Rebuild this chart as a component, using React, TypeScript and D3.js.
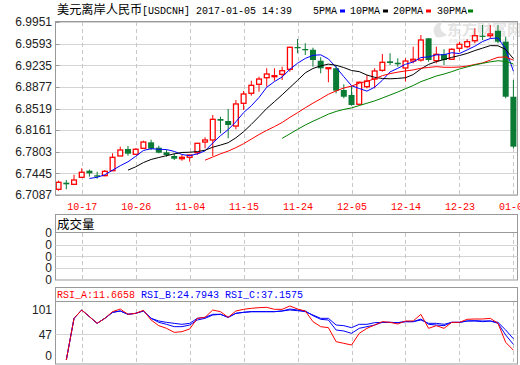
import React from "react";
import * as d3 from "d3";

const dates = [
  "10-12","10-13","10-14","10-17","10-18","10-19","10-20","10-21","10-24","10-25",
  "10-26","10-27","10-28","10-31","11-01","11-02","11-03","11-04","11-07","11-08",
  "11-09","11-10","11-11","11-14","11-15","11-16","11-17","11-18","11-21","11-22",
  "11-23","11-24","11-25","11-28","11-29","11-30","12-01","12-02","12-05","12-06",
  "12-07","12-08","12-09","12-12","12-13","12-14","12-15","12-16","12-19","12-20",
  "12-21","12-22","12-23","12-27","12-28","12-29","12-30","01-03","01-04","01-05"
];
const opens = [
  6.7181,6.7291,6.7264,6.7380,6.7489,6.7413,6.7407,6.7489,6.7733,6.7849,
  6.7761,6.7860,6.7959,6.7870,6.7794,6.7733,6.7688,6.7711,6.7787,6.7964,
  6.7998,6.8345,6.8312,6.8229,6.8605,6.8771,6.8920,6.9029,6.9045,6.9085,
  6.9168,6.9537,6.9504,6.9492,6.9310,6.9178,6.9185,6.8825,6.8743,6.8589,
  6.8880,6.9007,6.9151,6.9300,6.9277,6.9190,6.9305,6.9322,6.9681,6.9310,
  6.9416,6.9334,6.9516,6.9542,6.9641,6.9724,6.9724,6.9807,6.9625,6.8714
];
const highs = [
  6.7324,6.7335,6.7423,6.7529,6.7506,6.7473,6.7501,6.7777,6.7887,6.7898,
  6.7860,6.7986,6.8002,6.7903,6.7832,6.7777,6.7749,6.7752,6.7946,6.8042,
  6.8411,6.8383,6.8511,6.8660,6.8809,6.8979,6.9045,6.9185,6.9185,6.9211,
  6.9542,6.9670,6.9598,6.9526,6.9367,6.9196,6.9239,6.8920,6.8896,6.8963,
  6.9074,6.9185,6.9421,6.9433,6.9350,6.9350,6.9542,6.9736,6.9685,6.9542,
  6.9499,6.9516,6.9625,6.9665,6.9847,6.9901,6.9901,6.9901,6.9708,6.8991
];
const lows = [
  6.7158,6.7181,6.7260,6.7368,6.7390,6.7357,6.7397,6.7485,6.7730,6.7738,
  6.7749,6.7849,6.7832,6.7777,6.7721,6.7666,6.7655,6.7638,6.7749,6.7860,
  6.7733,6.8108,6.8026,6.8175,6.8494,6.8731,6.8797,6.8880,6.8979,6.8991,
  6.9128,6.9433,6.9405,6.9211,6.9102,6.8953,6.8771,6.8688,6.8565,6.8577,
  6.8853,6.8853,6.9128,6.9239,6.9211,6.8966,6.9267,6.9294,6.9294,6.9267,
  6.9239,6.9322,6.9459,6.9516,6.9598,6.9653,6.9681,6.9598,6.8688,6.7860
];
const closes = [
  6.7297,6.7264,6.7335,6.7463,6.7446,6.7390,6.7479,6.7711,6.7832,6.7771,
  6.7844,6.7964,6.7854,6.7787,6.7749,6.7688,6.7711,6.7749,6.7943,6.7998,
  6.8340,6.8317,6.8246,6.8594,6.8759,6.8903,6.9007,6.9090,6.9062,6.9145,
  6.9532,6.9516,6.9483,6.9322,6.9185,6.9194,6.8814,6.8714,6.8577,6.8953,
  6.8974,6.9140,6.9284,6.9272,6.9251,6.9305,6.9334,6.9653,6.9322,6.9416,
  6.9322,6.9499,6.9582,6.9625,6.9724,6.9708,6.9752,6.9625,6.8714,6.7887
];
const rsiA = [null,-10,82.5,101,86.2,71.4,82.5,97.3,103.2,91.4,93.6,100.3,78.8,66.2,60.3,51.4,52.9,58.8,82.5,84.7,101,97.3,84.7,98.8,102.5,104.7,106.2,106.9,102.5,102.5,109.9,103.2,98.8,75.1,64,61.8,30.7,27,23.3,49.2,60.3,67.7,75.1,73.6,69.9,76.6,76.6,91.4,60.3,66.2,60.3,73.6,73.6,80.3,81,81,82.5,71.4,29.2,11.67];
const rsiB = [null,-10,82.5,101,86.2,71.4,82.5,95.8,98.8,91.4,93.6,98.8,82.5,73.6,69.2,64,64,67.7,78.8,82.5,89.9,91.4,84.7,93.6,95.8,97.3,97.3,97.3,97.3,98.8,103.2,101,98.8,88.4,80.3,78.8,56.6,54.4,49.2,60.3,64,67.7,73.6,73.6,72.9,75.1,75.1,81,69.2,67.7,66.2,73.6,73.6,76.6,76.6,75.1,76.6,71.4,45.5,24.79];
const rsiC = [null,-10,82.5,101,86.2,71.4,82.5,95.8,98.8,91.4,93.6,98.8,82.5,76.6,73.6,71.4,69.2,71.4,82.5,84.7,91.4,91.4,84.7,93.6,95.8,97.3,97.3,97.3,97.3,98.8,101,99.5,97.3,89.9,82.5,82.5,67.7,66.2,61.8,69.2,69.2,72.9,73.6,73.6,72.9,75.1,75.1,78.8,71.4,71.4,69.2,73.6,73.6,76.6,77.3,76.6,76.6,73.6,56.6,37.16];
const priceTicks = [6.9951,6.9593,6.9235,6.8877,6.8519,6.8161,6.7803,6.7445,6.7087];
const dateTicks = ["10-17","10-26","11-04","11-15","11-24","12-05","12-14","12-23","01-05"];
const volTicks = ["0","0","0","0","0"];
const rsiTicks = [101, 47, 0];
const maPeriods = [5, 10, 20, 30];
const maNames = ["5PMA", "10PMA", "20PMA", "30PMA"];
const maColors = ["#0000ff", "#000000", "#ff0000", "#008000"];
const rsiLabels = ["RSI_A:11.6658", "RSI_B:24.7943", "RSI_C:37.1575"];
const rsiColors = ["#ff0000", "#0000ff", "#0000ff"];

const UP = "#ff0000";
const DOWN = "#0b7a34";
const FRAME = "#999999";
const GRID = "#d4d4d4";
const MONO = "'Liberation Mono', 'DejaVu Sans Mono', monospace";
const SANS = "'Liberation Sans', Arial, sans-serif";
const CJK = "'Noto Sans CJK SC', sans-serif";

const L = 55.5, R = 517.5;

export default function App() {
  const x = d3.scalePoint<string>().domain(dates).range([58.6, 513.4]);
  const y = d3.scaleLinear().domain([6.7087, 6.9951]).range([195, 22]);
  const ry = d3.scaleLinear().domain([0, 101]).range([355.5, 310]);
  const vy = d3.scaleLinear().domain([0, 4]).range([280, 232.7]);

  const mas = maPeriods.map((n) =>
    closes.map((_, i) => (i >= n - 1 ? d3.mean(closes.slice(i - n + 1, i + 1)) as number : null))
  );
  const line = d3
    .line<number | null>()
    .defined((d) => d !== null)
    .x((_, i) => x(dates[i]) as number)
    .y((d) => y(d as number));
  const rline = d3
    .line<number | null>()
    .defined((d) => d !== null)
    .x((_, i) => x(dates[i]) as number)
    .y((d) => ry(d as number));

  const gridX = dateTicks.map((t) => x(t) as number);

  return (
    <div style={{ position: "fixed", left: 0, top: 0 }}>
      <svg width={520} height={365} style={{ display: "block", background: "#fff" }}>
        <defs>
          <clipPath id="mainClip">
            <rect x={L} y={21.5} width={R - L} height={174} />
          </clipPath>
          <clipPath id="rsiClip">
            <rect x={L} y={302} width={R - L} height={62} />
          </clipPath>
        </defs>
        <rect x={0} y={0} width={520} height={365} fill="#fff" />

        {/* header */}
        <text x={57} y={14} fontSize={12} fill="#000">
          <tspan fontFamily={CJK} fontSize={12.2}>美元离岸人民币</tspan>
          <tspan fontFamily={MONO} fontSize={10} x={142}>[USDCNH] 2017-01-05 14:39</tspan>
        </text>
        {maNames.map((nm, k) => {
          const xs = [313, 350, 393, 437][k];
          const bx = [340, 383, 426, 468][k];
          return (
            <g key={nm}>
              <text x={xs} y={14} fontFamily={MONO} fontSize={10} fill="#000">{nm}</text>
              <rect x={bx} y={9.5} width={5} height={3} fill={maColors[k]} />
            </g>
          );
        })}

        {/* main panel grid */}
        {priceTicks.map((t) => (
          <line key={t} x1={L} x2={R} y1={Math.round(y(t)) + 0.5} y2={Math.round(y(t)) + 0.5} stroke={GRID} />
        ))}
        {gridX.map((gx, k) => (
          <line key={k} x1={Math.round(gx) + 0.5} x2={Math.round(gx) + 0.5} y1={22} y2={195} stroke="#c8c8c8" strokeDasharray="4,3" />
        ))}

        {/* watermark */}
        <g opacity={0.9}>
          <path d="M436,37 C431,30 434,23 445,20 C439,25 438,30 447,35 C443,37 439,38 436,37 Z" fill="#e0e0e0" />
          <text x={447} y={35} fontFamily={CJK} fontSize={15} fontWeight="bold" fill="#e0e0e0">东方财富网</text>
          <text x={449} y={43} fontFamily={SANS} fontSize={8} fontWeight="bold" fill="#e6e6e6">eastmoney.com</text>
        </g>

        {/* candles */}
        <g clipPath="url(#mainClip)">
          {dates.map((d, i) => {
            const cx = x(d) as number;
            const o = opens[i], c = closes[i], h = highs[i], l = lows[i];
            const up = c >= o;
            const yTop = y(Math.max(o, c));
            const yBot = y(Math.min(o, c));
            const bh = Math.max(yBot - yTop, 0.8);
            if (up) {
              return (
                <g key={d}>
                  <line x1={cx} x2={cx} y1={y(h)} y2={yTop} stroke={UP} strokeWidth={1} />
                  <line x1={cx} x2={cx} y1={yTop + bh} y2={y(l)} stroke={UP} strokeWidth={1} />
                  <rect x={cx - 2.4} y={yTop} width={4.8} height={bh} fill="#fff" stroke={UP} strokeWidth={1.3} />
                </g>
              );
            }
            return (
              <g key={d}>
                <line x1={cx} x2={cx} y1={y(h)} y2={y(l)} stroke={DOWN} strokeWidth={1} />
                <rect x={cx - 3} y={yTop} width={6} height={Math.max(bh, 1.2)} fill={DOWN} />
              </g>
            );
          })}
          {mas.map((m, k) => (
            <path key={k} d={line(m) || ""} fill="none" stroke={maColors[k]} strokeWidth={1} />
          ))}
        </g>

        {/* main frame & axis */}
        <rect x={L} y={21.5} width={R - L} height={173.5} fill="none" stroke={FRAME} />
        {priceTicks.map((t) => (
          <g key={t}>
            <line x1={L} x2={L + 4} y1={Math.round(y(t)) + 0.5} y2={Math.round(y(t)) + 0.5} stroke={FRAME} />
            <text x={52} y={y(t) + 4.3} textAnchor="end" fontFamily={SANS} fontSize={12} fill="#222">{t.toFixed(4)}</text>
          </g>
        ))}
        {dateTicks.map((t) => (
          <text key={t} x={(x(t) as number) + 0.5} y={209.5} textAnchor="middle" fontFamily={MONO} fontSize={10} fill="#ff0000">{t}</text>
        ))}

        {/* volume panel */}
        <rect x={L} y={214.5} width={R - L} height={65.5} fill="none" stroke={FRAME} />
        <line x1={L} x2={R} y1={232.5} y2={232.5} stroke={FRAME} />
        <text x={57} y={228.5} fontFamily={CJK} fontSize={12.5} fill="#000">成交量</text>
        {[1, 2, 3].map((k) => (
          <line key={k} x1={L} x2={R} y1={Math.round(vy(k)) + 0.5} y2={Math.round(vy(k)) + 0.5} stroke={GRID} />
        ))}
        {gridX.map((gx, k) => (
          <line key={k} x1={Math.round(gx) + 0.5} x2={Math.round(gx) + 0.5} y1={233} y2={279.5} stroke="#c8c8c8" strokeDasharray="4,3" />
        ))}
        {volTicks.map((t, k) => (
          <text key={k} x={52} y={vy(4 - k) + 4.3} textAnchor="end" fontFamily={SANS} fontSize={12} fill="#222">{t}</text>
        ))}

        {/* RSI panel */}
        <rect x={L} y={287.5} width={R - L} height={76.5} fill="none" stroke={FRAME} />
        <line x1={L} x2={R} y1={301.5} y2={301.5} stroke={FRAME} />
        <text y={298} fontFamily={MONO} fontSize={10}>
          {rsiLabels.map((s, k) => (
            <tspan key={s} x={57 + k * 84} fill={rsiColors[k]}>{s}</tspan>
          ))}
        </text>
        <line x1={L} x2={R} y1={Math.round(ry(47)) + 0.5} y2={Math.round(ry(47)) + 0.5} stroke={GRID} />
        {gridX.map((gx, k) => (
          <line key={k} x1={Math.round(gx) + 0.5} x2={Math.round(gx) + 0.5} y1={302} y2={363.5} stroke="#c8c8c8" strokeDasharray="4,3" />
        ))}
        {rsiTicks.map((t) => (
          <text key={t} x={52} y={ry(t) + 4.3} textAnchor="end" fontFamily={SANS} fontSize={12} fill="#222">{t}</text>
        ))}
        <g clipPath="url(#rsiClip)">
          <path d={rline(rsiC) || ""} fill="none" stroke="#0000ff" strokeWidth={1} />
          <path d={rline(rsiB) || ""} fill="none" stroke="#0000ff" strokeWidth={1} />
          <path d={rline(rsiA) || ""} fill="none" stroke="#ff0000" strokeWidth={1} />
        </g>
      </svg>
    </div>
  );
}
